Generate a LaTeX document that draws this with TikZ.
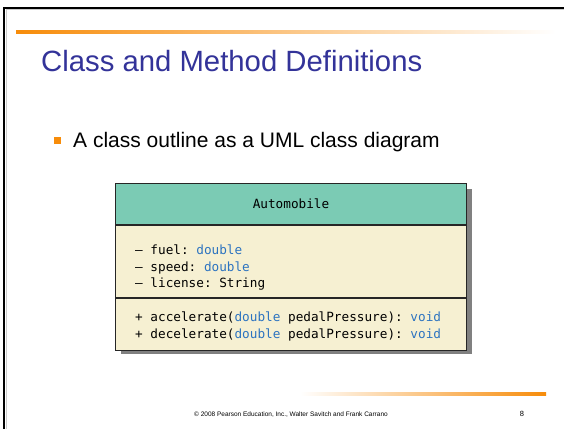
\documentclass[tikz,border=0pt]{standalone}
\usepackage{fontspec}
\setmainfont{Liberation Sans}
\setmonofont{DejaVu Sans Mono}
\usetikzlibrary{positioning}

\definecolor{titleblue}{RGB}{51,51,153}
\definecolor{slideorange}{RGB}{247,140,10}
\definecolor{umlteal}{RGB}{123,203,180}
\definecolor{umlcream}{RGB}{246,240,210}
\definecolor{typeblue}{RGB}{44,115,192}
\definecolor{shadowgray}{RGB}{128,128,128}

\tikzset{
  umlbox/.style={draw=black!85, line width=1pt, minimum width=351pt, anchor=north west, inner sep=0pt},
  umlline/.style={anchor=base west, inner sep=0pt, font=\fontsize{12.7}{15}\ttfamily},
}
\newcommand{\ty}[1]{\textcolor{typeblue}{#1}}

\begin{document}
\begin{tikzpicture}[x=1pt,y=-1pt]
\useasboundingbox (0,0) rectangle (564,428);
\clip (0,0) rectangle (564,428);
\fill[white] (0,0) rectangle (564,428);
% Rahmen der Folie
\draw[black!20, line width=1pt] (6,440) -- (6,10) -- (580,10);
\draw[line width=2pt] (4,440) -- (4,8) -- (580,8);
% Linien oben und unten
\shade[left color=slideorange, right color=white] (16,31) rectangle (556,34);
\shade[left color=white, right color=slideorange] (300,392) rectangle (546,395);

% Titel und Aufzaehlung
\node[anchor=base west, inner sep=0pt, text=titleblue, font=\fontsize{29.3}{32}\selectfont] (title) at (41,71) {Class and Method Definitions};
\node[fill=slideorange, minimum size=7pt, inner sep=0pt] (bullet) at (57,140) {};
\node[anchor=base west, inner sep=0pt, font=\fontsize{21}{24}\selectfont] (point) at (73,147) {A class outline as a UML class diagram};

% Klassendiagramm
\fill[shadowgray] (121,189) rectangle (472,354);
\node[umlbox, fill=umlteal, minimum height=41pt] (head) at (115,183) {};
\node[umlbox, fill=umlcream, minimum height=72pt] (attrs) at (head.south west) {};
\node[umlbox, fill=umlcream, minimum height=52pt] (meths) at (attrs.south west) {};
\node[anchor=base, inner sep=0pt, font=\fontsize{12.7}{15}\ttfamily] (name) at ([yshift=-4pt]head.center) {Automobile};
\node[umlline] (fuel) at (135,254) {– fuel: \ty{double}};
\node[umlline] (speed) at (135,271) {– speed: \ty{double}};
\node[umlline] (license) at (135,287) {– license: String};
\node[umlline] (accel) at (135,321) {+ accelerate(\ty{double} pedalPressure): \ty{void}};
\node[umlline] (decel) at (135,338) {+ decelerate(\ty{double} pedalPressure): \ty{void}};

% Fusszeile
\node[anchor=base, inner sep=0pt, font=\fontsize{6.5}{8}\selectfont] (footer) at (291,416) {© 2008 Pearson Education, Inc., Walter Savitch and Frank Carrano};
\node[anchor=base, inner sep=0pt, font=\fontsize{7.5}{9}\selectfont] (page) at (522,416) {8};
\end{tikzpicture}
\end{document}
